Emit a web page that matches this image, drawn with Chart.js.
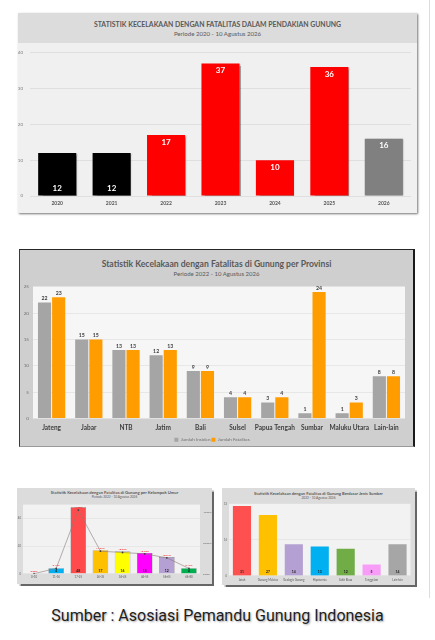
<!DOCTYPE html>
<html><head><meta charset="utf-8">
<script src="https://cdn.jsdelivr.net/npm/chart.js@4.4.1/dist/chart.umd.min.js"></script>
<style>
html,body{margin:0;padding:0;background:#fff;width:435px;height:640px;overflow:hidden;font-family:Lato,"Open Sans",sans-serif}
.frame{position:absolute;box-sizing:border-box}
.band{position:absolute;left:0;right:0;top:0}
.t{position:absolute;left:0;right:0;text-align:center;white-space:nowrap;color:#595959}
.cv{position:absolute}
.cv canvas{display:block}
#caption{position:absolute;left:0;width:435px;top:605px;height:22px;line-height:22px;text-align:center;font-family:Roboto,sans-serif;font-size:16px;color:#1e1e1e;text-shadow:1px 1px 2px rgba(0,0,0,0.35)}
#edge{position:absolute;left:429px;top:0;width:1px;height:598px;background:#dcdcdc}
</style></head><body>

<div id="edge"></div>

<div class="frame" style="left:18px;top:13px;width:399px;height:200px;background:#f0f0f0;box-shadow:1px 1px 2px rgba(0,0,0,0.55)">
  <div class="band" style="height:30px;background:#dcdcdc"></div>
  <div class="t" style="top:6.5px;font-size:6.9px;line-height:8px;font-weight:700">STATISTIK KECELAKAAN DENGAN FATALITAS DALAM PENDAKIAN GUNUNG</div>
  <div class="t" style="top:16.5px;font-size:6.1px;line-height:7px">Periode 2020 - 10 Agustus 2026</div>
</div>
<div class="cv" style="left:18px;top:43px;width:399px;height:170px"><canvas id="c1"></canvas></div>

<div class="frame" style="left:19px;top:249px;width:396px;height:198px;background:#cfcfcf;border-top:1.5px solid #262626;border-left:1px solid #3a3a3a;border-right:2px solid #1a1a1a;border-bottom:1px solid #9a9a9a">
  <div class="t" style="top:9px;font-size:8.6px;line-height:10px;font-weight:700">Statistik Kecelakaan dengan Fatalitas di Gunung per Provinsi</div>
  <div class="t" style="top:19.5px;font-size:6px;line-height:7px">Periode 2022 - 10 Agustus 2026</div>
</div>
<div class="cv" style="left:19px;top:280px;width:396px;height:172px"><canvas id="c2"></canvas></div>

<div class="frame" style="left:17px;top:488px;width:195px;height:96px;background:#dcdcdc;box-shadow:1.5px 1.5px 1px rgba(0,0,0,0.6)">
  <div class="t" style="top:2px;font-size:4.2px;line-height:5px;font-weight:700">Statistik Kecelakaan dengan Fatalitas di Gunung per Kelompok Umur</div>
  <div class="t" style="top:6.5px;font-size:3.2px;line-height:4px">Periode 2022 - 10 Agustus 2026</div>
</div>
<div class="cv" style="left:17px;top:500px;width:195px;height:84px"><canvas id="c3"></canvas></div>

<div class="frame" style="left:222px;top:488px;width:193px;height:97px;background:#dcdcdc;box-shadow:1.5px 1.5px 1px rgba(0,0,0,0.6)">
  <div class="t" style="top:3px;font-size:4.1px;line-height:5px;font-weight:700">Statistik Kecelakaan dengan Fatalitas di Gunung Berdasar Jenis Sumber</div>
  <div class="t" style="top:7.5px;font-size:3.2px;line-height:4px">2022 - 10 Agustus 2026</div>
</div>
<div class="cv" style="left:222px;top:500px;width:193px;height:85px"><canvas id="c4"></canvas></div>

<div id="caption">Sumber : Asosiasi Pemandu Gunung Indonesia</div>

<script>
// ---- data ----
const yearLabels = ['2020','2021','2022','2023','2024','2025','2026'];
const yearFatalities = [12,12,17,37,10,36,16];
const yearColors = ['#000000','#000000','#ff0000','#ff0000','#ff0000','#ff0000','#808080'];

const provinces = ['Jateng','Jabar','NTB','Jatim','Bali','Sulsel','Papua Tengah','Sumbar','Maluku Utara','Lain-lain'];
const provIncidents = [22,15,13,12,9,4,3,1,1,8];
const provFatalities = [23,15,13,13,9,4,4,24,3,8];

const ageGroups = ['0-10','11-16','17-25','26-35','36-45','46-55','56-65','66-80'];
const ageFatalities = [0,4,48,17,16,15,12,4];
const agePercent = [0.00,3.45,41.38,14.66,13.79,12.93,10.34,3.45];
const ageColors = ['#7f7f7f','#00b0f0','#ff4b4b','#ffc000','#ffff00','#ff00ff','#b4a0d2','#00b050'];

const causes = ['Jatuh','Gunung Meletus','Geologis Gunung','Hipotermia','Sakit Biasa','Tenggelam','Lain-lain'];
const causeFatalities = [31,27,14,13,12,5,14];
const causeColors = ['#ff5050','#ffc000','#b4a0d2','#00b0f0','#70ad47','#f79cf7','#a6a6a6'];

// ---- label settings per canvas (kept outside Chart.js options) ----
const labelCfg = {
  c1:[{pos:i=>i<2?'base':'insideEnd', offset:7, font:'700 8px Lato', color:'#ffffff'}],
  c2:[{pos:()=>'above', offset:4, font:'700 5.2px Lato', color:'#404040'},
      {pos:()=>'above', offset:4, font:'700 5.2px Lato', color:'#404040'}],
  c3:[{pos:()=>'above', offset:3, font:'2.6px Lato', color:'#ff0000', format:v=>v.toFixed(2)+'%'},
      {pos:()=>'base', offset:3, font:'700 3.4px Lato', color:'#1a1a1a', skipZero:true}],
  c4:[{pos:()=>'base', offset:3.5, font:'700 3.4px Lato', color:'#1a1a1a'}]
};
const bgCfg = {c2:'#f6f6f6', c3:'#f2f2f2', c4:'#f2f2f2'};
const shadowCfg = {c1:{color:'rgba(0,0,0,0.35)',x:1.5,y:0.5,blur:1.5}};

// ---- plugins ----
const areaBg = {id:'areaBg', beforeDraw(chart){
  const col = bgCfg[chart.canvas.id]; if(!col) return;
  const a = chart.chartArea, ctx = chart.ctx;
  ctx.save(); ctx.fillStyle = col; ctx.fillRect(a.left,a.top,a.right-a.left,a.bottom-a.top); ctx.restore();
}};
const barShadow = {id:'barShadow',
  beforeDatasetsDraw(chart){
    const c = shadowCfg[chart.canvas.id]; if(!c) return;
    const ctx = chart.ctx; ctx.save();
    ctx.shadowColor = c.color; ctx.shadowOffsetX = c.x; ctx.shadowOffsetY = c.y; ctx.shadowBlur = c.blur;
  },
  afterDatasetsDraw(chart){ if(shadowCfg[chart.canvas.id]) chart.ctx.restore(); }
};
const valueLabels = {id:'valueLabels', afterDatasetsDraw(chart){
  const sets = labelCfg[chart.canvas.id]; if(!sets) return;
  const ctx = chart.ctx;
  chart.data.datasets.forEach((ds,di)=>{
    const cfg = sets[di]; if(!cfg) return;
    const meta = chart.getDatasetMeta(di);
    meta.data.forEach((el,i)=>{
      const v = ds.data[i];
      if(cfg.skipZero && v===0) return;
      const txt = cfg.format ? cfg.format(v) : String(v);
      const pos = cfg.pos(i);
      let y;
      if(pos==='base') y = el.base - cfg.offset;
      else if(pos==='insideEnd') y = el.y + cfg.offset;
      else y = el.y - cfg.offset;
      ctx.save();
      ctx.font = cfg.font; ctx.fillStyle = cfg.color; ctx.textAlign='center'; ctx.textBaseline='middle';
      ctx.fillText(txt, el.x, y);
      ctx.restore();
    });
  });
}};
Chart.register(areaBg, barShadow, valueLabels);
Chart.defaults.font.family = 'Lato, "Open Sans", sans-serif';

const fixW = w => (s => { s.width = w; });
const fixH = h => (s => { s.height = h; });

// ---- chart 1 ----
new Chart(document.getElementById('c1'), {
  type:'bar',
  data:{labels:yearLabels, datasets:[{data:yearFatalities, backgroundColor:yearColors, barPercentage:0.7, categoryPercentage:1.0}]},
  options:{
    responsive:true, maintainAspectRatio:false, animation:false,
    layout:{padding:{top:1,right:6,left:0,bottom:0}},
    plugins:{legend:{display:false}, tooltip:{enabled:false}},
    scales:{
      x:{grid:{display:false, drawTicks:false}, border:{display:false},
        ticks:{font:{size:5,weight:'700'}, color:'#595959', padding:4.5, maxRotation:0},
        afterFit:fixH(17)},
      y:{min:0,max:40, border:{display:false},
        grid:{color:'#dadada', drawTicks:false, lineWidth:0.8},
        ticks:{stepSize:10, font:{size:4.5}, color:'#7f7f7f', padding:7},
        afterFit:fixW(12)}
    }
  }
});

// ---- chart 2 ----
new Chart(document.getElementById('c2'), {
  type:'bar',
  data:{labels:provinces, datasets:[
    {label:'Jumlah Insiden', data:provIncidents, backgroundColor:'#a5a5a5', barPercentage:0.93, categoryPercentage:0.76},
    {label:'Jumlah Fatalitas', data:provFatalities, backgroundColor:'#ff9c00', barPercentage:0.93, categoryPercentage:0.76}
  ]},
  options:{
    responsive:true, maintainAspectRatio:false, animation:false,
    layout:{padding:{top:5,right:10,left:0,bottom:0}},
    plugins:{tooltip:{enabled:false},
      legend:{position:'bottom', labels:{boxWidth:4, boxHeight:4, font:{size:4.6}, color:'#6f6f6f', padding:1}}
    },
    scales:{
      x:{grid:{display:false, drawTicks:false}, border:{display:false},
        ticks:{font:{size:6.5,weight:'700'}, color:'#404040', padding:5.5, maxRotation:0, autoSkip:false},
        afterFit:fixH(18)},
      y:{min:0,max:25, border:{display:false},
        grid:{color:'#e3e3e3', drawTicks:false, lineWidth:0.8},
        ticks:{stepSize:5, font:{size:4.6}, color:'#6f6f6f', padding:4},
        afterFit:fixW(14)}
    }
  }
});

// ---- chart 3 ----
new Chart(document.getElementById('c3'), {
  data:{labels:ageGroups, datasets:[
    {type:'line', data:agePercent, yAxisID:'y1', borderColor:'#8c7b7b', borderWidth:0.6, pointRadius:0.9, pointBackgroundColor:'#404040', pointBorderWidth:0, tension:0, order:0},
    {type:'bar', data:ageFatalities, yAxisID:'y', backgroundColor:ageColors, borderColor:'#4a4a4a', borderWidth:0.4, barPercentage:0.7, categoryPercentage:1.0, order:1}
  ]},
  options:{
    responsive:true, maintainAspectRatio:false, animation:false,
    layout:{padding:{top:2.7,right:0,left:0,bottom:0}},
    plugins:{legend:{display:false}, tooltip:{enabled:false}},
    scales:{
      x:{grid:{display:false, drawTicks:false}, border:{display:false},
        ticks:{font:{size:2.8}, color:'#555', padding:2, maxRotation:0, autoSkip:false},
        afterFit:fixH(10.3)},
      y:{position:'left', min:0, max:50, border:{display:false},
        grid:{color:'#dcdcdc', drawTicks:false, lineWidth:0.5},
        ticks:{stepSize:20, includeBounds:false, font:{size:2.8}, color:'#666', padding:2},
        afterFit:fixW(6)},
      y1:{position:'right', min:0, max:45, border:{display:false},
        grid:{display:false, drawTicks:false},
        ticks:{stepSize:20, includeBounds:false, font:{size:2.6}, color:'#666', padding:3, callback:v=>v.toFixed(2)+'%'},
        afterFit:fixW(12)}
    }
  }
});

// ---- chart 4 ----
new Chart(document.getElementById('c4'), {
  type:'bar',
  data:{labels:causes, datasets:[{data:causeFatalities, backgroundColor:causeColors, barPercentage:0.7, categoryPercentage:1.0}]},
  options:{
    responsive:true, maintainAspectRatio:false, animation:false,
    layout:{padding:{top:2.7,right:4.5,left:0,bottom:0}},
    plugins:{legend:{display:false}, tooltip:{enabled:false}},
    scales:{
      x:{grid:{display:false, drawTicks:false}, border:{display:false},
        ticks:{font:{size:2.8}, color:'#555', padding:2.5, maxRotation:0, autoSkip:false},
        afterFit:fixH(9.3)},
      y:{min:0, max:32, border:{display:false},
        grid:{color:'#dcdcdc', drawTicks:false, lineWidth:0.5},
        ticks:{stepSize:16, font:{size:2.8}, color:'#666', padding:2},
        afterFit:fixW(7)}
    }
  }
});
</script>
</body></html>
